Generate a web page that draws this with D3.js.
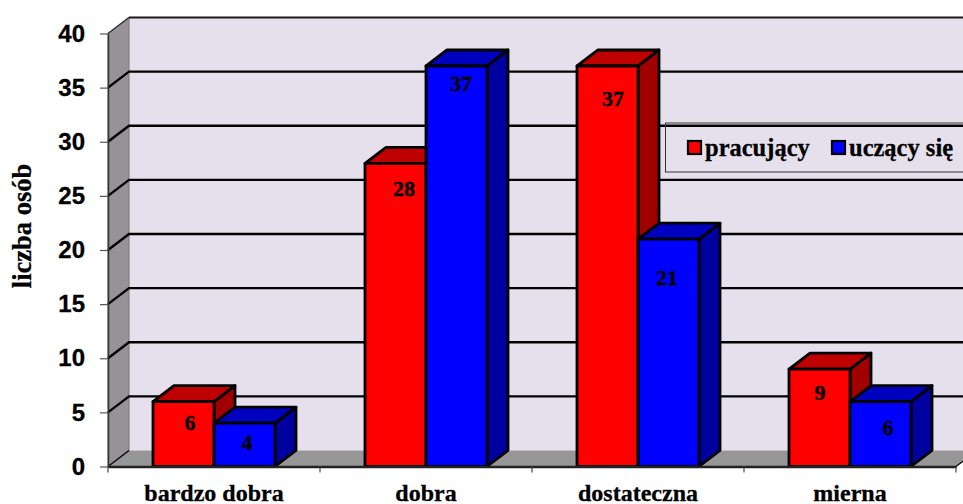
<!DOCTYPE html>
<html>
<head>
<meta charset="utf-8">
<script src="https://cdn.jsdelivr.net/npm/d3@7/dist/d3.min.js"></script>
<style>
html,body{margin:0;padding:0;background:#fff}
svg{display:block}
</style>
</head>
<body>
<script>
const categories = ["bardzo dobra", "dobra", "dostateczna", "mierna"];
const pracujacy = [6, 28, 37, 9];
const uczacySie = [4, 37, 21, 6];
const seriesNames = ["pracujący", "uczący się"];
const yTicks = [0, 5, 10, 15, 20, 25, 30, 35, 40];
const yTitle = "liczba osób";

const W = 963, H = 504;
const depthX = 21, depthY = 16;
const serif = "'Liberation Serif', serif", sans = "'Liberation Sans', sans-serif";

const x = d3.scaleBand().domain(categories).range([108, 956]).paddingInner(0).paddingOuter(0);
const y = d3.scaleLinear().domain([0, 40]).range([466.5, 33.5]);
const sub = d3.scaleBand().domain([0, 1]).range([45, 167]);

const svg = d3.select("body").append("svg").attr("width", W).attr("height", H);

// Back wall, side wall and floor of the 3D box
const y0 = y(0), yTop = y(40);
const left = x.range()[0], right = x.range()[1];
const poly = pts => pts.map(p => p.join(",")).join(" ");

svg.append("polygon").attr("points", poly([[left + depthX, yTop - depthY], [W + 5, yTop - depthY], [W + 5, y0 - depthY], [left + depthX, y0 - depthY]]))
  .attr("fill", "#e6e0ec");
svg.append("polygon").attr("points", poly([[left, yTop], [left + depthX, yTop - depthY], [left + depthX, y0 - depthY], [left, y0]]))
  .attr("fill", "#969296").attr("stroke", "#808080").attr("stroke-width", 1.2);
svg.append("polygon").attr("points", poly([[left, y0], [left + depthX, y0 - depthY], [right + depthX, y0 - depthY], [right, y0]]))
  .attr("fill", "#969696");
svg.append("line").attr("x1", left + depthX).attr("x2", W + 5).attr("y1", yTop - depthY).attr("y2", yTop - depthY)
  .attr("stroke", "#1a1a1a").attr("stroke-width", 2);

// Gridlines wrap from the side wall onto the back wall
const grid = svg.append("g").attr("fill", "none").attr("stroke", "#000").attr("stroke-width", 2.4);
yTicks.filter(t => t > 0 && t < 40).forEach(t => {
  grid.append("polyline").attr("points", poly([[left, y(t)], [left + depthX, y(t) - depthY], [W + 5, y(t) - depthY]]));
});
svg.append("line").attr("x1", left).attr("x2", left + depthX).attr("y1", y0).attr("y2", y0 - depthY).attr("stroke", "#000").attr("stroke-width", 1.2);
svg.append("line").attr("x1", left).attr("x2", left + depthX).attr("y1", yTop).attr("y2", yTop - depthY).attr("stroke", "#333").attr("stroke-width", 1.2);

// Left and bottom axes
const yAxis = svg.append("g").attr("transform", `translate(${left},0)`)
  .call(d3.axisLeft(y).tickValues(yTicks).tickSize(8).tickPadding(15).tickSizeOuter(0));
yAxis.select(".domain").attr("stroke", "#333").attr("stroke-width", 1.5);
yAxis.selectAll("line").attr("stroke", "#555").attr("stroke-width", 1.2);
yAxis.selectAll("text").attr("font-family", sans).attr("font-weight", "bold").attr("font-size", 24)
  .attr("stroke", "#000").attr("stroke-width", 0.3).attr("fill", "#000");

// Two-coloured 3D columns
const seriesStyle = [
  { values: pracujacy, front: "#ff0000", top: "#bf0000", side: "#a00000" },
  { values: uczacySie, front: "#0000ff", top: "#0000bf", side: "#0000a0" }
];
const barLayer = svg.append("g").attr("stroke", "#000").attr("stroke-width", 2.8).attr("stroke-linejoin", "round");
categories.forEach((c, i) => {
  seriesStyle.forEach((s, k) => {
    const v = s.values[i];
    const xa = x(c) + sub(k), xb = xa + sub.bandwidth(), yt = y(v);
    barLayer.append("polygon").attr("fill", s.side).attr("points", poly([[xb, yt], [xb + depthX, yt - depthY], [xb + depthX, y0 - depthY], [xb, y0]]));
    barLayer.append("polygon").attr("fill", s.top).attr("points", poly([[xa, yt], [xa + depthX, yt - depthY], [xb + depthX, yt - depthY], [xb, yt]]));
    barLayer.append("rect").attr("x", xa).attr("y", yt).attr("width", xb - xa).attr("height", y0 - yt).attr("fill", s.front);
  });
});

// Baseline with category ticks
const xAxis = svg.append("g").attr("transform", `translate(0,${y0})`)
  .call(d3.axisBottom(x).tickSize(0).tickPadding(17));
xAxis.select(".domain").attr("stroke", "#222").attr("stroke-width", 2.4);
xAxis.selectAll("text").attr("font-family", serif).attr("font-weight", "bold").attr("font-size", 24)
  .attr("stroke", "#000").attr("stroke-width", 0.3).attr("fill", "#000");
svg.append("g").selectAll("line").data(categories.map(c => x(c)).concat(right)).join("line")
  .attr("x1", d => d).attr("x2", d => d).attr("y1", y0).attr("y2", y0 + 6).attr("stroke", "#444").attr("stroke-width", 1.2);
svg.append("line").attr("x1", right).attr("y1", y0).attr("x2", right + depthX).attr("y2", y0 - depthY).attr("stroke", "#000").attr("stroke-width", 1.2);

// Value labels, each nudged from its column's top-left corner
const labelOffsetX = [[37, 33], [39, 35], [36, 29], [31, 38]];
const labelOffsetY = [[28, 27], [33, 25], [40, 46], [31, 33]];
const labels = svg.append("g").attr("font-family", serif).attr("font-weight", "bold").attr("font-size", 22)
  .attr("text-anchor", "middle").attr("fill", "#000").attr("stroke", "#000").attr("stroke-width", 0.4);
categories.forEach((c, i) => {
  seriesStyle.forEach((s, k) => {
    labels.append("text").attr("x", x(c) + sub(k) + labelOffsetX[i][k])
      .attr("y", y(s.values[i]) + labelOffsetY[i][k]).text(s.values[i]);
  });
});

// Axis title
svg.append("text").attr("transform", "translate(31,226) rotate(-90)").attr("text-anchor", "middle")
  .attr("font-family", serif).attr("font-weight", "bold").attr("font-size", 26.5)
  .attr("stroke", "#000").attr("stroke-width", 0.3).attr("fill", "#000").text(yTitle);

// Legend
const legend = svg.append("g");
legend.append("rect").attr("x", 665.5).attr("y", 123).attr("width", 310).attr("height", 49)
  .attr("fill", "none").attr("stroke", "#333").attr("stroke-width", 1);
const legendX = [688, 832], legendColors = ["#ff0000", "#0000ff"];
seriesNames.forEach((n, i) => {
  legend.append("rect").attr("x", legendX[i]).attr("y", 141).attr("width", 13).attr("height", 13)
    .attr("fill", legendColors[i]).attr("stroke", "#000").attr("stroke-width", 2.2);
  legend.append("text").attr("x", legendX[i] + 17).attr("y", 156).attr("font-family", serif).attr("font-weight", "bold")
    .attr("font-size", 24.5).attr("stroke", "#000").attr("stroke-width", 0.3).attr("fill", "#000").text(n);
});
</script>
</body>
</html>
